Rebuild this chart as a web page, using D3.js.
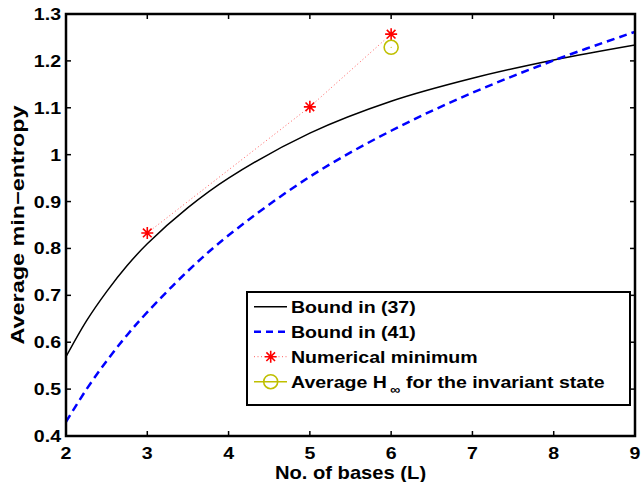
<!DOCTYPE html>
<html>
<head>
<meta charset="utf-8">
<script src="https://cdn.jsdelivr.net/npm/d3@7"></script>
<style>
  body { margin: 0; background: #fff; }
  text { font-family: "Liberation Sans", Arial, sans-serif; font-weight: bold; fill: #000; }
</style>
</head>
<body>
<svg width="642" height="482"></svg>
<script>
// values
const bases = [2, 2.25, 2.5, 2.75, 3, 3.5, 4, 5, 6, 7, 8, 9]
const bound37 = [0.569, 0.645, 0.708, 0.763, 0.810, 0.887, 0.950, 1.046, 1.114, 1.163, 1.202, 1.234]
const bound41 = [0.430, 0.499, 0.560, 0.615, 0.664, 0.752, 0.828, 0.953, 1.051, 1.132, 1.201, 1.262]
const numBases = [3, 5, 6]
const numMin = [0.833, 1.102, 1.257]
const invBases = [6]
const invH = [1.229]
const xTicks = [2, 3, 4, 5, 6, 7, 8, 9]
const yTicks = [0.4, 0.5, 0.6, 0.7, 0.8, 0.9, 1.0, 1.1, 1.2, 1.3]

const pLeft = 66, pRight = 635, pTop = 14, pBottom = 436
const stretch = 1.15

const svg = d3.select("svg")
const x = d3.scaleLinear().domain([2, 9]).range([pLeft, pRight])
const y = d3.scaleLinear().domain([0.4, 1.3]).range([pBottom, pTop])

svg.append("defs").append("clipPath").attr("id", "clip")
  .append("rect").attr("x", pLeft).attr("y", pTop)
  .attr("width", pRight - pLeft).attr("height", pBottom - pTop)

const plot = svg.append("g").attr("clip-path", "url(#clip)")

const line = d3.line().x(d => x(d[0])).y(d => y(d[1])).curve(d3.curveCatmullRom.alpha(0.5))

plot.append("path")
  .datum(d3.zip(bases, bound37))
  .attr("d", line)
  .attr("fill", "none").attr("stroke", "#000").attr("stroke-width", 1.5)

plot.append("path")
  .datum(d3.zip(bases, bound41))
  .attr("d", line)
  .attr("fill", "none").attr("stroke", "#0000ff").attr("stroke-width", 2.5)
  .attr("stroke-dasharray", "8,5")

const numPts = d3.zip(numBases, numMin)
plot.append("path")
  .datum(numPts)
  .attr("d", d3.line().x(d => x(d[0])).y(d => y(d[1])))
  .attr("fill", "none").attr("stroke", "#ff6060").attr("stroke-width", 1)
  .attr("stroke-dasharray", "1,2.5")

function star(g, cx, cy) {
  const r = 6, k = r * 0.72
  const p = `M${cx - r},${cy}L${cx + r},${cy}M${cx},${cy - r}L${cx},${cy + r}` +
    `M${cx - k},${cy - k}L${cx + k},${cy + k}M${cx - k},${cy + k}L${cx + k},${cy - k}`
  g.append("path").attr("d", p).attr("stroke", "#ff0000").attr("stroke-width", 1.6).attr("fill", "none")
}

numPts.forEach(d => star(svg, x(d[0]), y(d[1])))

d3.zip(invBases, invH).forEach(d => {
  svg.append("circle").attr("cx", x(d[0])).attr("cy", y(d[1])).attr("r", 7)
    .attr("fill", "none").attr("stroke", "#bfbf00").attr("stroke-width", 1.6)
  svg.append("circle").attr("cx", x(d[0])).attr("cy", y(d[1])).attr("r", 0.6).attr("fill", "#bfbf00")
})

// axes box with inward ticks on all sides
const axes = svg.append("g").attr("stroke", "#000").attr("stroke-width", 1.5)
xTicks.forEach(t => {
  axes.append("line").attr("x1", x(t)).attr("x2", x(t)).attr("y1", pBottom).attr("y2", pBottom - 5)
  axes.append("line").attr("x1", x(t)).attr("x2", x(t)).attr("y1", pTop).attr("y2", pTop + 5)
})
yTicks.forEach(t => {
  axes.append("line").attr("x1", pLeft).attr("x2", pLeft + 5).attr("y1", y(t)).attr("y2", y(t))
  axes.append("line").attr("x1", pRight).attr("x2", pRight - 5).attr("y1", y(t)).attr("y2", y(t))
})
svg.append("rect").attr("x", pLeft).attr("y", pTop)
  .attr("width", pRight - pLeft).attr("height", pBottom - pTop)
  .attr("fill", "none").attr("stroke", "#000").attr("stroke-width", 2.5)

function label(px, py, str, anchor, size, sx, rot) {
  return svg.append("text")
    .attr("transform", `translate(${px},${py}) rotate(${rot || 0}) scale(${sx},1)`)
    .attr("text-anchor", anchor)
    .style("font-size", size + "px")
    .text(str)
}

xTicks.forEach(t => label(x(t), 459, d3.format("")(t), "middle", 17, stretch))
yTicks.forEach(t => label(pLeft - 5, y(t) + 6, t === 1 ? "1" : d3.format(".1f")(t), "end", 17, stretch))

label((pLeft + pRight) / 2, 479, "No. of bases (L)", "middle", 18, 1.12)
label(24, (pTop + pBottom) / 2, "Average min\u2212entropy", "middle", 18, 1.3, -90)

// legend
const lg = svg.append("g")
lg.append("rect").attr("x", 247).attr("y", 292).attr("width", 383).attr("height", 113)
  .attr("fill", "#fff").attr("stroke", "#000").attr("stroke-width", 2)

const rows = [306.7, 331.7, 356.7, 381.7]
const names = ["Bound in (37)", "Bound in (41)", "Numerical minimum"]
lg.append("line").attr("x1", 254).attr("x2", 287).attr("y1", rows[0]).attr("y2", rows[0])
  .attr("stroke", "#000").attr("stroke-width", 1.5)
lg.append("line").attr("x1", 254).attr("x2", 287).attr("y1", rows[1]).attr("y2", rows[1])
  .attr("stroke", "#0000ff").attr("stroke-width", 2.5).attr("stroke-dasharray", "7,5")
lg.append("line").attr("x1", 254).attr("x2", 287).attr("y1", rows[2]).attr("y2", rows[2])
  .attr("stroke", "#ff6060").attr("stroke-width", 1).attr("stroke-dasharray", "1,2.5")
star(lg, 270.7, rows[2])
lg.append("line").attr("x1", 254).attr("x2", 287).attr("y1", rows[3]).attr("y2", rows[3])
  .attr("stroke", "#bfbf00").attr("stroke-width", 1.5)
lg.append("circle").attr("cx", 270.7).attr("cy", rows[3]).attr("r", 7)
  .attr("fill", "none").attr("stroke", "#bfbf00").attr("stroke-width", 1.6)

names.forEach((n, i) => label(291, rows[i] + 6, n, "start", 17, stretch))
label(291, rows[3] + 6, "Average H", "start", 17, stretch)
label(390, rows[3] + 12, "\u221e", "start", 13, 1.1)
label(406, rows[3] + 6, "for the invariant state", "start", 17, stretch)
</script>
</body>
</html>
